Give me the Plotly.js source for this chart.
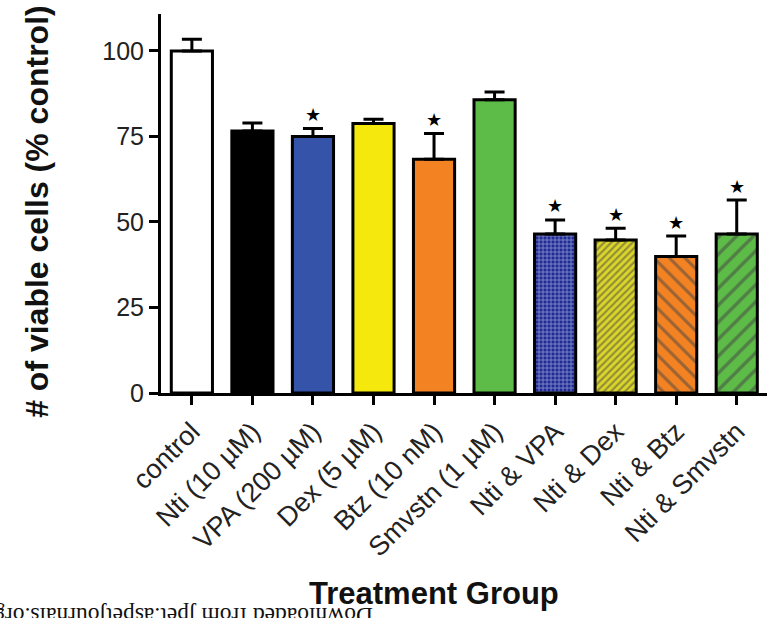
<!DOCTYPE html>
<html>
<head>
<meta charset="utf-8">
<script src="https://cdn.plot.ly/plotly-3.0.1.min.js"></script>
<style>
  html, body { margin: 0; padding: 0; background: #fff; overflow: hidden; }
  #wrap { position: relative; width: 767px; height: 618px; overflow: hidden; }
  #chart { width: 767px; height: 618px; }
  #stamp {
    position: absolute; left: 373px; top: 628px;
    transform: rotate(180deg); transform-origin: 0 0;
    font-family: "Liberation Serif", "DejaVu Serif", serif;
    font-size: 23.5px; line-height: 24px; white-space: nowrap; color: #111;
  }
</style>
</head>
<body>
<div id="wrap">
  <div id="chart"></div>
  <div id="stamp">Downloaded from jpet.aspetjournals.org</div>
</div>
<script>
// Treatment groups and viable-cell counts (% of control), mean and SEM
const categories = [
  "control", "Nti (10 µM)", "VPA (200 µM)", "Dex (5 µM)", "Btz (10 nM)",
  "Smvstn (1 µM)", "Nti & VPA", "Nti & Dex", "Nti & Btz", "Nti & Smvstn"
];
const meanValues = [100, 76.6, 75.0, 78.8, 68.3, 85.7, 46.5, 44.7, 39.9, 46.5];
const semValues  = [3.4, 2.3, 2.3, 1.2, 7.6, 2.3, 4.1, 3.5, 6.0, 9.9];
const significant = [false, false, true, false, true, false, true, true, true, true];
const yTicks = [0, 25, 50, 75, 100];

// Fill colours and hatch patterns per group
const fillColors = ["#ffffff", "#000000", "#3553a9", "#f4e80c", "#f38223",
                    "#5dbb48", "#1f2b96", "#dcd62a", "#f38223", "#5dbb48"];
const hatchShapes = ["", "", "", "", "", "", "+", "/", "\\", "/"];
const hatchColors = ["#000", "#000", "#000", "#000", "#000", "#000",
                     "#0a0a45", "#5a560c", "#111111", "#0c0c0c"];
const hatchSizes = [8, 8, 8, 8, 8, 8, 4, 5, 11, 12];
const hatchSolidity = [0.3, 0.3, 0.3, 0.3, 0.3, 0.3, 0.35, 0.42, 0.28, 0.28];

const FONT = "Liberation Sans, Arial, Helvetica, sans-serif";

const bars = {
  type: "bar",
  x: categories,
  y: meanValues,
  width: 0.68,
  marker: {
    color: fillColors,
    line: { color: "#000", width: 3 },
    pattern: {
      shape: hatchShapes,
      fgcolor: hatchColors,
      bgcolor: fillColors,
      size: hatchSizes,
      solidity: hatchSolidity,
      fillmode: "overlay"
    }
  },
  error_y: {
    type: "data",
    symmetric: false,
    array: semValues,
    arrayminus: semValues.map(() => 0),
    color: "#000",
    thickness: 3,
    width: 10
  },
  hoverinfo: "skip"
};

// Significance stars above the error-bar caps
const stars = [];
categories.forEach((c, i) => {
  if (significant[i]) {
    stars.push({
      x: c, y: meanValues[i] + semValues[i], xref: "x", yref: "y",
      text: "★", showarrow: false, yanchor: "middle", yshift: 14,
      font: { family: "DejaVu Sans, sans-serif", size: 18, color: "#000" }
    });
  }
});

const titles = [
  {
    xref: "paper", yref: "paper", x: -0.205, y: 0.48,
    xanchor: "center", yanchor: "middle", textangle: -90, showarrow: false,
    text: "# of viable cells (% control)",
    font: { family: FONT, size: 32, color: "#111", weight: "bold" }
  },
  {
    xref: "paper", yref: "paper", x: (434 - 161) / 606, y: -0.528,
    xanchor: "center", yanchor: "middle", showarrow: false,
    text: "Treatment Group",
    font: { family: FONT, size: 31, color: "#111", weight: "bold" }
  }
];

const layout = {
  width: 767, height: 618,
  margin: { l: 161, r: 0, t: 14, b: 225, pad: 0 },
  paper_bgcolor: "#fff", plot_bgcolor: "#fff",
  showlegend: false,
  xaxis: {
    type: "category",
    range: [-0.51, 9.5],
    showgrid: false, zeroline: false,
    showline: true, linecolor: "#000", linewidth: 3,
    ticks: "outside", ticklen: 9, tickwidth: 3, tickcolor: "#000",
    tickangle: -45,
    tickfont: { family: FONT, size: 27, color: "#222" },
    automargin: false
  },
  yaxis: {
    range: [0, 110.8],
    tickvals: yTicks,
    ticktext: yTicks.map(String),
    showgrid: false, zeroline: false,
    showline: true, linecolor: "#000", linewidth: 3,
    ticks: "outside", ticklen: 9, tickwidth: 3, tickcolor: "#000",
    tickfont: { family: FONT, size: 25, color: "#222" },
    automargin: false
  },
  annotations: stars.concat(titles)
};

Plotly.newPlot("chart", [bars], layout, { displayModeBar: false, staticPlot: true });
</script>
</body>
</html>
